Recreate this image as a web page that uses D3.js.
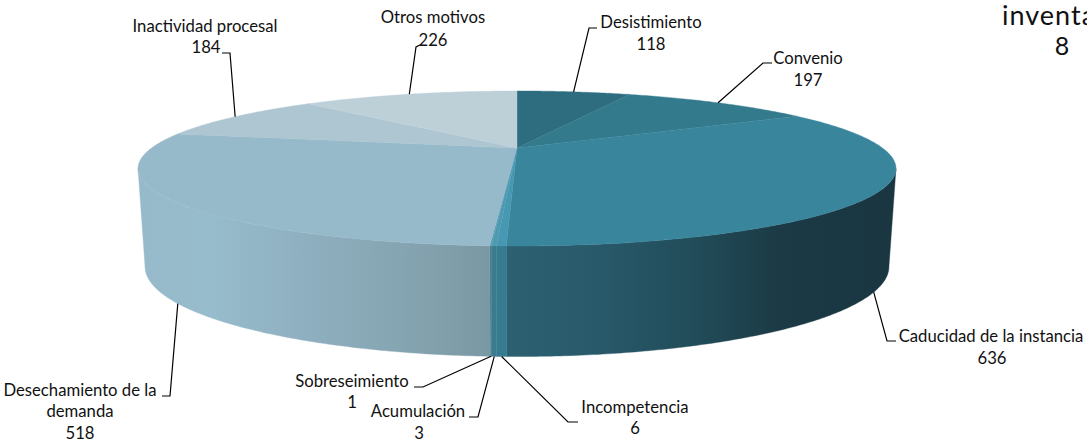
<!DOCTYPE html>
<html><head><meta charset="utf-8">
<script src="https://cdn.jsdelivr.net/npm/d3@7/dist/d3.min.js"></script>
<style>html,body{margin:0;padding:0;background:#fff;overflow:hidden}svg{display:block}text{font-family:Lato,"Open Sans",sans-serif;fill:#111}</style>
</head><body><svg id="c" width="1087" height="442"></svg>
<script>
// data
const categories = ["Desistimiento","Convenio","Caducidad de la instancia","Incompetencia","Acumulación","Sobreseimiento","Desechamiento de la demanda","Inactividad procesal","Otros motivos"];
const values = [118,197,636,6,3,1,518,184,226];
const offChartCategory = "inventario";
const offChartValue = 8;

// styles
const topColors = ["#2e6d7f","#347a8d","#39859c","#4798b2","#4f9ab2","#549cb3","#97bacb","#adc6d2","#bdd0d8"];
const darkStops = [[507,"#2c6172"],[600,"#28596a"],[700,"#214b58"],[780,"#1b3a45"],[896,"#193641"]];
const lightStops = [[138,"#97bacb"],[210,"#97bccc"],[300,"#8fb0c0"],[400,"#86a5b2"],[492,"#7a98a3"]];
const sideFill = [null,null,"url(#gDark)","#377b90","#3a7c8e","#3f7d8e","url(#gLight)",null,null];

// label layout: lines with centre x / baseline y, leader elbow points; rim: which edge the leader starts on
const layout = [
 {lines:[["Desistimiento",651,28],["118",651,50]], elbow:[[589,28],[597,28]], rim:"top"},
 {lines:[["Convenio",808,64],["197",808,86]], elbow:[[763,63],[772,63]], rim:"top"},
 {lines:[["Caducidad de la instancia",991,342],["636",992,364]], elbow:[[887,341],[896,341]], rim:"bottom"},
 {lines:[["Incompetencia",635,413],["6",635,434]], elbow:[[568,422],[578,422]], rim:"bottom"},
 {lines:[["Acumulación",418,417],["3",419,438.5]], elbow:[[478,417],[469,417]], rim:"bottom"},
 {lines:[["Sobreseimiento",352,387],["1",352,408]], elbow:[[423,387],[414,387]], rim:"bottom"},
 {lines:[["Desechamiento de la",80,396],["demanda",80,417],["518",80,438.5]], elbow:[[170,396],[162,396]], rim:"bottom"},
 {lines:[["Inactividad procesal",205,32],["184",206,53]], elbow:[[230,53],[222,53]], rim:"top"},
 {lines:[["Otros motivos",433,23],["226",433,46]], elbow:[[416,47],[420,45]], rim:"top"}
];

// projection of pie disc
const cx = 517, k = 0.2645;
const rimTop = {apex:148, rx:365.5, ry:72.1};
const rimBot = {apex:243, rx:358.7, ry:83.5};
const project = (rim,a) => {
  const u = Math.sin(a), v = Math.cos(a), w = 1 + k*v;
  return [cx + rim.rx*u/w, rim.apex - rim.ry*v/w];
};
const arcs = d3.pie().sort(null).value(d=>d)(values);
const arcPts = (rim,a0,a1) => {
  const n = Math.max(2, Math.ceil((a1-a0)/0.01));
  return d3.range(n+1).map(i => project(rim, a0+(a1-a0)*i/n));
};
const line = d3.line();
const svg = d3.select("#c");
const defs = svg.append("defs");
const grad = (id,stops) => {
  const g = defs.append("linearGradient").attr("id",id).attr("gradientUnits","userSpaceOnUse")
    .attr("x1",stops[0][0]).attr("x2",stops[stops.length-1][0]).attr("y1",0).attr("y2",0);
  const x = d3.scaleLinear().domain([stops[0][0],stops[stops.length-1][0]]).range([0,1]);
  g.selectAll("stop").data(stops).join("stop").attr("offset",d=>x(d[0])).attr("stop-color",d=>d[1]);
};
grad("gDark",darkStops); grad("gLight",lightStops);

// side wall: only between the two silhouette tangent angles
const tanR = Math.acos(-k), tanL = 2*Math.PI - tanR;
svg.append("g").selectAll("path").data(arcs.filter(d=>sideFill[d.index])).join("path")
  .attr("d",d=>{
    const a0 = Math.max(d.startAngle,tanR), a1 = Math.min(d.endAngle,tanL);
    const t = arcPts(rimTop,a0,a1), b = arcPts(rimBot,a0,a1).reverse();
    return line(t.concat(b))+"Z";
  })
  .attr("fill",d=>sideFill[d.index]).attr("stroke",d=>sideFill[d.index]).attr("stroke-width",0.4);

// top face
svg.append("g").selectAll("path").data(arcs).join("path")
  .attr("d",d=>line([[cx,rimTop.apex]].concat(arcPts(rimTop,d.startAngle,d.endAngle)))+"Z")
  .attr("fill",d=>topColors[d.index]).attr("stroke",d=>topColors[d.index]).attr("stroke-width",0.4);

// leaders
svg.append("g").selectAll("path").data(arcs).join("path")
  .attr("d",d=>{
    const l = layout[d.index], rim = l.rim==="top"?rimTop:rimBot;
    return line([project(rim,(d.startAngle+d.endAngle)/2)].concat(l.elbow));
  })
  .attr("fill","none").attr("stroke","#000").attr("stroke-width",1.2);

// labels
svg.append("g").selectAll("text").data(layout.flatMap(l=>l.lines)).join("text")
  .attr("x",d=>d[1]).attr("y",d=>d[2]).attr("text-anchor","middle").attr("font-size",16.7).text(d=>d[0]);

// clipped label from neighbouring chart
const off = svg.append("g");
off.append("text").attr("x",1002).attr("y",25).attr("font-size",27).style("letter-spacing","1px").text(offChartCategory);
off.append("text").attr("x",1062).attr("y",55).attr("text-anchor","middle").attr("font-size",25).text(offChartValue);
</script></body></html>
